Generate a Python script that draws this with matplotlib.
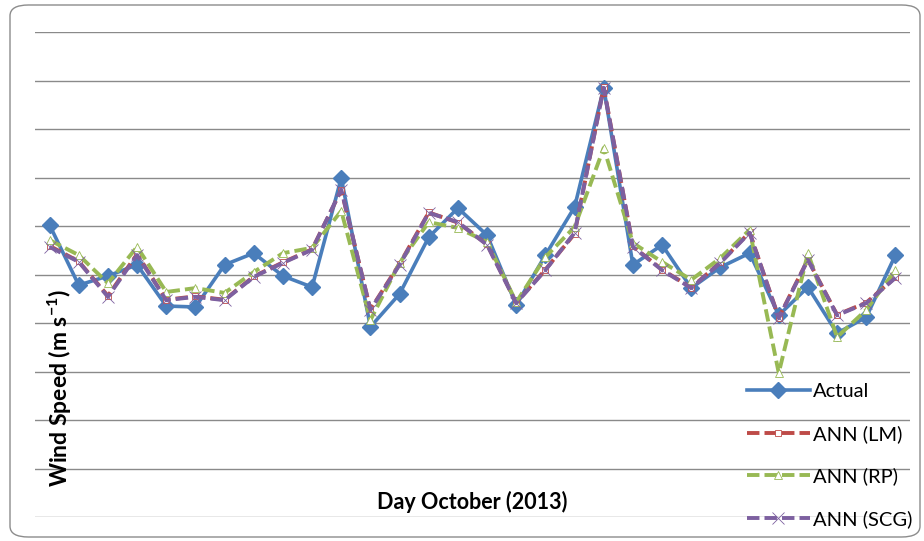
import numpy as np
import matplotlib
matplotlib.use('Agg')
import matplotlib.pyplot as plt
from matplotlib.patches import FancyBboxPatch

plt.rcParams['font.family'] = ['Lato', 'DejaVu Sans']
plt.rcParams['mathtext.fontset'] = 'custom'
plt.rcParams['mathtext.rm'] = 'Lato:bold'
plt.rcParams['mathtext.default'] = 'rm'

days = np.arange(1, 31)

actual = [6.02, 4.78, 4.97, 5.20, 4.35, 4.33, 5.20, 5.44, 4.97, 4.74,
          6.99, 3.92, 4.60, 5.77, 6.37, 5.81, 4.37, 5.40, 6.39, 8.85,
          5.20, 5.61, 4.72, 5.15, 5.44, 4.16, 4.74, 3.79, 4.12, 5.40]
ann_lm = [5.59, 5.27, 4.56, 5.42, 4.48, 4.55, 4.48, 4.96, 5.25, 5.52,
          6.74, 4.28, 5.22, 6.28, 6.07, 5.62, 4.42, 5.10, 5.84, 8.86,
          5.58, 5.10, 4.73, 5.25, 5.87, 4.11, 5.31, 4.17, 4.42, 4.94]
ann_rp = [5.71, 5.40, 4.82, 5.57, 4.64, 4.72, 4.62, 5.05, 5.44, 5.55,
          6.31, 4.06, 5.24, 6.08, 5.96, 5.67, 4.43, 5.36, 5.98, 7.61,
          5.65, 5.26, 4.89, 5.34, 5.92, 2.97, 5.44, 3.71, 4.27, 5.09]
ann_scg = [5.57, 5.26, 4.54, 5.40, 4.47, 4.54, 4.47, 4.95, 5.24, 5.51,
           6.75, 4.27, 5.20, 6.27, 6.08, 5.61, 4.41, 5.09, 5.86, 8.85,
           5.57, 5.09, 4.72, 5.24, 5.86, 4.10, 5.30, 4.16, 4.41, 4.93]

W, H = 924, 541
fig = plt.figure(figsize=(W / 100, H / 100), dpi=100)

# rounded chart border, kept behind the axes
border = FancyBboxPatch((10 / W, 4 / H), 910 / W, 532 / H,
                        boxstyle='round,pad=0,rounding_size=0.02',
                        transform=fig.transFigure, facecolor='white',
                        edgecolor='#8c8c8c', linewidth=1.0, zorder=-5)
fig.patches.append(border)

ax = fig.add_axes([35 / W, 1 - 517 / H, 875 / W, 485 / H])
ax.set_facecolor('none')
ax.set_xlim(0.5, 30.5)
ax.set_ylim(0, 10)
ax.set_yticks(np.arange(0, 11, 1))
ax.set_xticks([])
ax.tick_params(left=False, labelleft=False)
for s in ax.spines.values():
    s.set_visible(False)
ax.grid(axis='y', color='#8a8a8a', linewidth=1.0)
ax.set_axisbelow(True)

dash = (0, (3.2, 1.3))
ax.plot(days, actual, color='#4a7ebb', linewidth=2.6, marker='D',
        markersize=8, markerfacecolor='#4a7ebb', markeredgecolor='#4a7ebb',
        label='Actual', solid_joinstyle='round')
ax.plot(days, ann_lm, color='#be4b48', linewidth=2.8, linestyle=dash,
        marker='s', markersize=5, markerfacecolor='white',
        markeredgecolor='#be4b48', markeredgewidth=0.6, label='ANN (LM)')
ax.plot(days, ann_rp, color='#98b954', linewidth=2.8, linestyle=dash,
        marker='^', markersize=6, markerfacecolor='white',
        markeredgecolor='#98b954', markeredgewidth=0.6, label='ANN (RP)')
ax.plot(days, ann_scg, color='#7d60a0', linewidth=2.8, linestyle=dash,
        marker='x', markersize=8, markeredgecolor='#7d60a0',
        markeredgewidth=0.6, label='ANN (SCG)')

fig.text(60 / W, 1 - 388 / H, 'Wind Speed (m s$^{-1}$)',
         rotation=90, ha='center', va='center', fontsize=16.5,
         fontweight='bold')
fig.text(472 / W, 1 - 502 / H, 'Day October (2013)', ha='center',
         va='center', fontsize=15.5, fontweight='bold')

leg = ax.legend(loc='upper left', bbox_to_anchor=(737 / W, 1 - 373 / H),
                bbox_transform=fig.transFigure, frameon=False,
                fontsize=14.5, handlelength=3.1, handletextpad=0.15,
                labelspacing=1.23, borderpad=0)

fig.savefig('out.png', dpi=100)
